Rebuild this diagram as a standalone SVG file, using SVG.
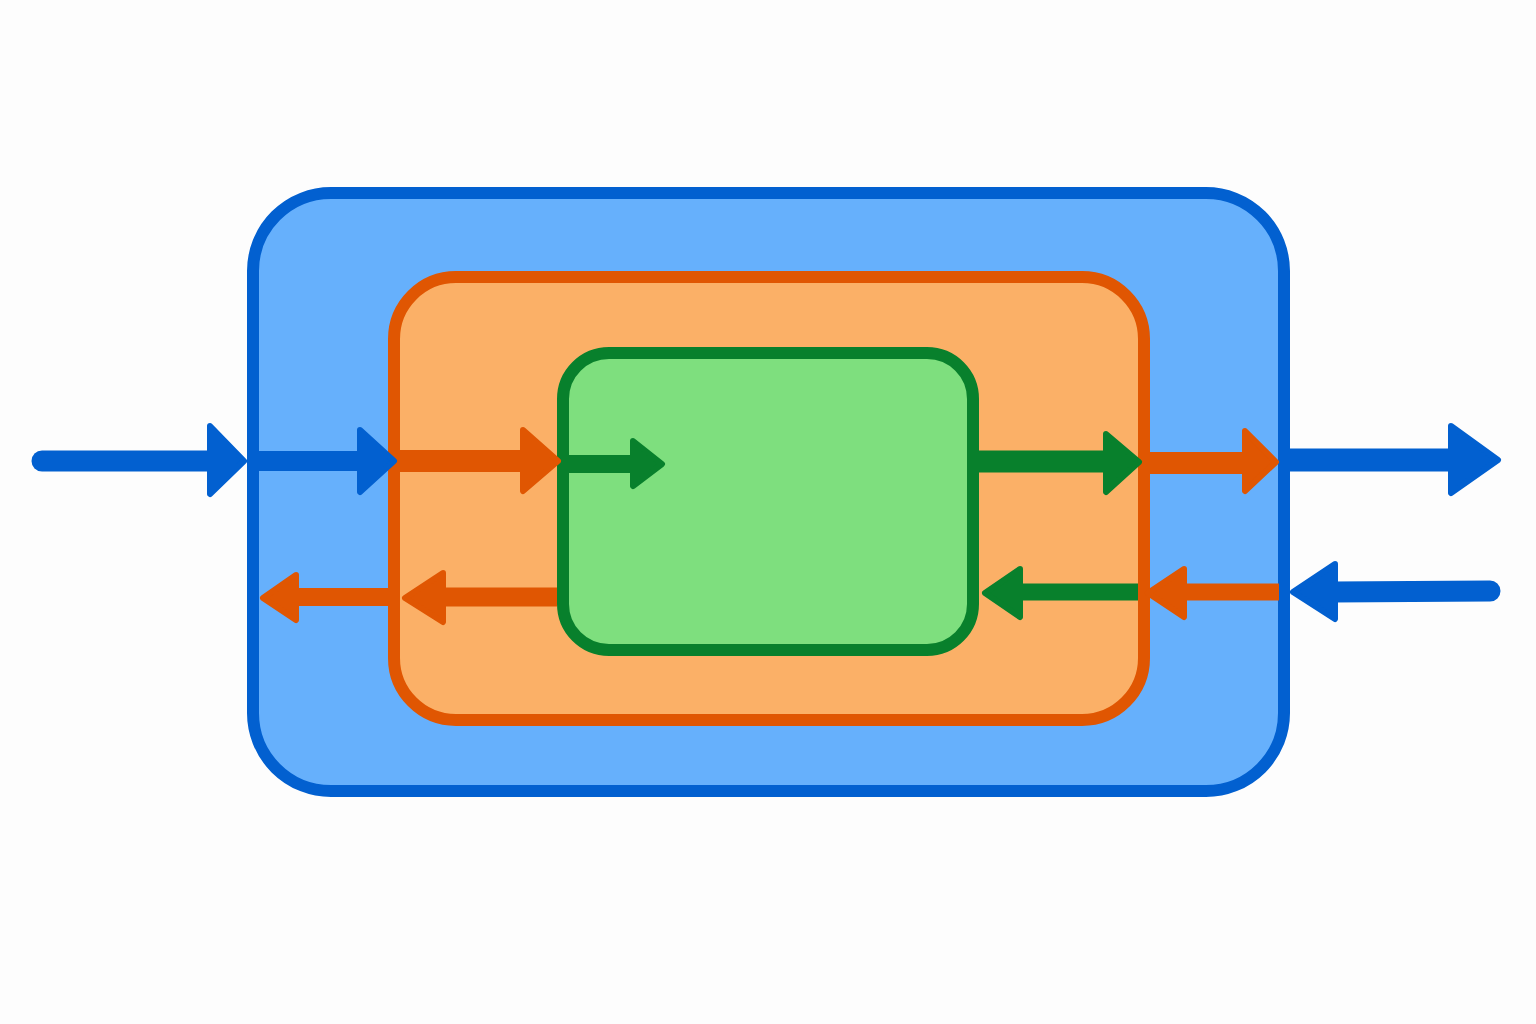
<svg xmlns="http://www.w3.org/2000/svg" width="1536" height="1024" viewBox="0 0 1536 1024">
<style>
.box{stroke-width:12}
.blue{fill:#66B0FC;stroke:#0260D0}
.orange{fill:#FBB067;stroke:#E05602}
.green{fill:#7EDF7E;stroke:#08802C}
.sb{stroke:#0260D0;fill:none}
.so{stroke:#E05602;fill:none}
.sg{stroke:#08802C;fill:none}
.hb{fill:#0260D0;stroke:#0260D0;stroke-width:6;stroke-linejoin:round}
.ho{fill:#E05602;stroke:#E05602;stroke-width:6;stroke-linejoin:round}
.hg{fill:#08802C;stroke:#08802C;stroke-width:6;stroke-linejoin:round}
</style>
<rect width="1536" height="1024" fill="#FDFDFD"/>
<g id="outer-box"><rect class="box blue" x="253" y="193" width="1031" height="598" rx="78"/></g>
<g id="middle-box"><rect class="box orange" x="394" y="277" width="750" height="443" rx="62"/></g>
<g id="inner-box"><rect class="box green" x="563" y="353" width="410" height="297" rx="46"/></g>
<g id="connectors">
<!-- left inputs -->
<line class="sb" x1="42" y1="461" x2="212" y2="461" stroke-width="21" stroke-linecap="round"/>
<path class="hb" d="M210,426 L244,461 L210,494 Z"/>
<line class="sb" x1="259" y1="461" x2="362" y2="461" stroke-width="20"/>
<path class="hb" d="M360,430 L394,461 L360,492 Z"/>
<line class="so" x1="400" y1="461" x2="525" y2="461" stroke-width="22"/>
<path class="ho" d="M523,430 L558,461 L523,491 Z"/>
<line class="sg" x1="569" y1="464" x2="634" y2="464" stroke-width="18"/>
<path class="hg" d="M633,441 L662,464 L633,486 Z"/>
<!-- right outputs -->
<line class="sg" x1="979" y1="461.5" x2="1108" y2="461.5" stroke-width="22"/>
<path class="hg" d="M1106,434 L1139,462 L1106,492 Z"/>
<line class="so" x1="1150" y1="463" x2="1247" y2="463" stroke-width="22"/>
<path class="ho" d="M1245,431 L1276,462 L1245,491 Z"/>
<line class="sb" x1="1290" y1="460" x2="1453" y2="460" stroke-width="23"/>
<path class="hb" d="M1451,426 L1498,460 L1451,493 Z"/>
<!-- right inputs -->
<line class="sb" x1="1490" y1="591" x2="1333" y2="592" stroke-width="21" stroke-linecap="round"/>
<path class="hb" d="M1335,564 L1293,592 L1335,619 Z"/>
<line class="so" x1="1279" y1="592" x2="1182" y2="592" stroke-width="17"/>
<path class="ho" d="M1184,569 L1148,593 L1184,617 Z"/>
<line class="sg" x1="1138" y1="592" x2="1018" y2="592" stroke-width="17"/>
<path class="hg" d="M1020,569 L985,593 L1020,617 Z"/>
<!-- left outputs -->
<line class="so" x1="557" y1="597" x2="441" y2="597" stroke-width="19"/>
<path class="ho" d="M443,573 L405,598 L443,622 Z"/>
<line class="so" x1="388" y1="597" x2="294" y2="597" stroke-width="18"/>
<path class="ho" d="M296,575 L263,598 L296,620 Z"/>
</g>
</svg>
